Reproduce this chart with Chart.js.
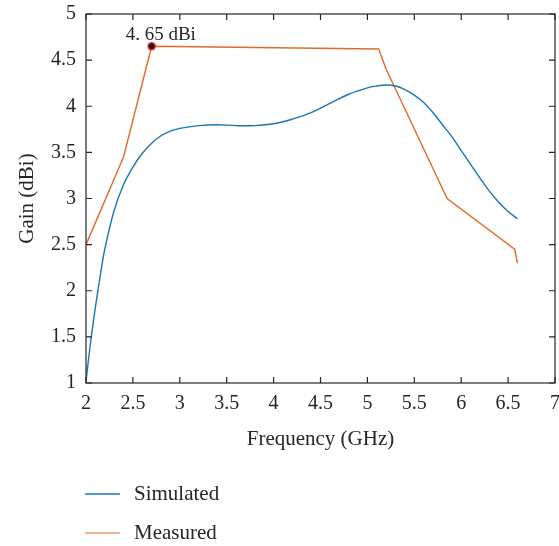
<!DOCTYPE html>
<html>
<head>
<meta charset="utf-8">
<script src="https://cdn.jsdelivr.net/npm/chart.js@4/dist/chart.umd.min.js"></script>
<style>
  html, body { margin: 0; padding: 0; background: #fff; }
  #wrap { width: 559px; height: 546px; position: relative; }
</style>
</head>
<body>
<div id="wrap"><canvas id="gain"></canvas></div>
<script>
const simFreq = [2, 2.05, 2.1, 2.15, 2.2, 2.3, 2.4, 2.5, 2.6, 2.7, 2.8, 2.9, 3.0, 3.2, 3.4, 3.6, 3.8, 4.0, 4.2, 4.4, 4.6, 4.8, 5.0, 5.1, 5.2, 5.3, 5.4, 5.5, 5.6, 5.7, 5.8, 5.9, 6.0, 6.1, 6.2, 6.3, 6.4, 6.5, 6.6];
const simGain = [1.02, 1.45, 1.82, 2.15, 2.45, 2.87, 3.15, 3.34, 3.49, 3.6, 3.68, 3.73, 3.76, 3.79, 3.8, 3.79, 3.79, 3.81, 3.86, 3.93, 4.03, 4.13, 4.2, 4.22, 4.23, 4.22, 4.18, 4.12, 4.04, 3.93, 3.8, 3.67, 3.52, 3.37, 3.22, 3.08, 2.96, 2.86, 2.78];

const measFreq = [2, 2.4, 2.7, 5.12, 5.2, 5.85, 6.57, 6.6];
const measGain = [2.5, 3.45, 4.65, 4.62, 4.4, 3.0, 2.45, 2.3];

const peak = { x: 2.7, y: 4.65, label: '4. 65 dBi' };
const legendLabels = ['Simulated', 'Measured'];

const BLUE = '#1a75b8';
const ORANGE = '#e06a2a';
const FONT = '"Liberation Serif", "DejaVu Serif", serif';
const INK = '#262626';

const toPoints = (xs, ys) => xs.map((x, i) => ({ x, y: ys[i] }));

// box, inward ticks, peak marker and the legend
const frame = {
  id: 'frame',
  afterDatasetsDraw(chart) {
    const { ctx, chartArea: a, scales: { x, y } } = chart;
    ctx.save();
    ctx.strokeStyle = INK;
    ctx.lineWidth = 1.2;
    ctx.strokeRect(a.left, a.top, a.right - a.left, a.bottom - a.top);
    ctx.beginPath();
    x.ticks.forEach((t) => {
      const px = x.getPixelForValue(t.value);
      ctx.moveTo(px, a.bottom); ctx.lineTo(px, a.bottom - 6);
      ctx.moveTo(px, a.top); ctx.lineTo(px, a.top + 6);
    });
    y.ticks.forEach((t) => {
      const py = y.getPixelForValue(t.value);
      ctx.moveTo(a.left, py); ctx.lineTo(a.left + 6, py);
      ctx.moveTo(a.right, py); ctx.lineTo(a.right - 6, py);
    });
    ctx.stroke();

    const px = x.getPixelForValue(peak.x);
    const py = y.getPixelForValue(peak.y);
    ctx.beginPath();
    ctx.arc(px, py, 3.5, 0, Math.PI * 2);
    ctx.fillStyle = '#1a1a1a';
    ctx.fill();
    ctx.strokeStyle = '#e8202a';
    ctx.lineWidth = 1.5;
    ctx.stroke();
    ctx.fillStyle = INK;
    ctx.font = '19px ' + FONT;
    ctx.textAlign = 'left';
    ctx.textBaseline = 'alphabetic';
    ctx.fillText(peak.label, px - 26, py - 6);

    // legend
    const colors = [BLUE, 'rgba(224,106,42,0.7)'];
    ctx.font = '21px ' + FONT;
    legendLabels.forEach((txt, i) => {
      const ly = 494 + i * 39;
      ctx.beginPath();
      ctx.strokeStyle = colors[i];
      ctx.lineWidth = 1.5;
      ctx.moveTo(85, ly); ctx.lineTo(120, ly);
      ctx.stroke();
      ctx.fillStyle = INK;
      ctx.textBaseline = 'middle';
      ctx.fillText(txt, 134, ly);
    });
    ctx.restore();
  },
};

const tickFont = { family: FONT, size: 20 };
const titleFont = { family: FONT, size: 21 };

new Chart(document.getElementById('gain'), {
  type: 'line',
  data: {
    datasets: [
      {
        label: legendLabels[0],
        data: toPoints(simFreq, simGain),
        borderColor: BLUE,
        borderWidth: 1.4,
        pointRadius: 0,
        tension: 0.4,
      },
      {
        label: legendLabels[1],
        data: toPoints(measFreq, measGain),
        borderColor: ORANGE,
        borderWidth: 1.4,
        pointRadius: 0,
        tension: 0,
      },
    ],
  },
  options: {
    responsive: true,
    maintainAspectRatio: false,
    animation: false,
    layout: { padding: { top: 14, right: 4, bottom: 83, left: 0 } },
    plugins: { legend: { display: false }, tooltip: { enabled: false } },
    scales: {
      x: {
        type: 'linear',
        min: 2,
        max: 7,
        grid: { display: false, drawTicks: false },
        border: { display: false },
        ticks: { stepSize: 0.5, padding: 9, color: INK, font: tickFont, callback: (v) => String(v) },
        title: { display: true, text: 'Frequency (GHz)', color: INK, padding: { bottom: 11 }, font: titleFont },
        afterFit: (s) => { s.height = 80; s.paddingLeft = 0; s.paddingRight = 0; },
      },
      y: {
        min: 1,
        max: 5,
        grid: { display: false, drawTicks: false },
        border: { display: false },
        ticks: { stepSize: 0.5, padding: 10, color: INK, font: tickFont, callback: (v) => String(v) },
        title: { display: true, text: 'Gain (dBi)', color: INK, padding: { top: 15 }, font: titleFont },
        afterFit: (s) => { s.width = 86; s.paddingTop = 0; s.paddingBottom = 0; },
      },
    },
  },
  plugins: [frame],
});
</script>
</body>
</html>
